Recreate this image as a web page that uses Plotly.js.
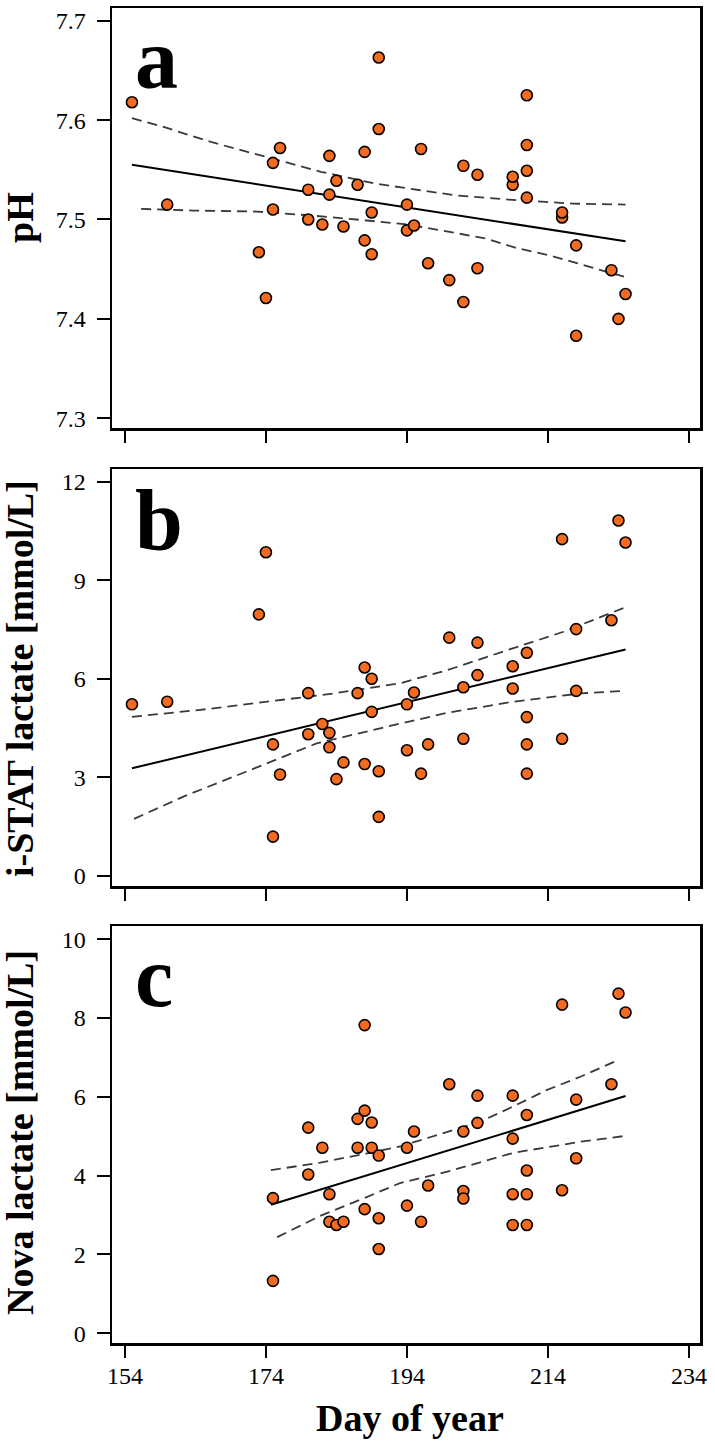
<!DOCTYPE html>
<html>
<head>
<meta charset="utf-8">
<script src="https://cdn.plot.ly/plotly-3.0.1.min.js"></script>
<style>
  html, body { margin: 0; padding: 0; background: #ffffff; }
  #chart { width: 715px; height: 1447px; }
</style>
</head>
<body>
<div id="chart"></div>
<script>
// ---- Panel a: blood pH by day of year ----
const phDay = [155,160,173,174,175,175,176,180,180,182,183,183,184,185,187,188,188,189,189,190,190,194,194,195,196,197,200,202,202,204,204,209,209,211,211,211,211,216,216,218,218,223,224,225];
const phValue = [7.618,7.515,7.467,7.421,7.557,7.510,7.572,7.530,7.500,7.495,7.564,7.525,7.539,7.493,7.535,7.568,7.479,7.507,7.465,7.663,7.591,7.515,7.489,7.494,7.571,7.456,7.439,7.554,7.417,7.545,7.451,7.535,7.543,7.625,7.575,7.549,7.522,7.502,7.507,7.474,7.383,7.449,7.400,7.425];
const phFitDay = [155, 225];
const phFit = [7.555, 7.478];
const phUpperDay = [155,159.1,166.2,174,181.8,189.6,197.3,201.2,208.4,212.3,217.5,225];
const phUpper = [7.602,7.594,7.578,7.563,7.548,7.536,7.528,7.524,7.520,7.518,7.516,7.515];
const phLowerDay = [156.3,163.6,172.7,180.5,188.3,194.1,201.2,205.1,209.7,214.2,218.1,221.4,225];
const phLower = [7.5106,7.509,7.508,7.504,7.499,7.495,7.486,7.481,7.471,7.464,7.456,7.449,7.442];

// ---- Panel b: i-STAT lactate ----
const istatDay = [155,160,173,174,175,175,176,180,180,182,183,183,184,185,187,188,188,189,189,190,190,194,194,195,196,197,200,202,202,204,204,209,209,211,211,211,211,216,216,218,218,223,224,225];
const istatValue = [5.22,5.30,7.96,9.85,4.00,1.19,3.08,5.56,4.31,4.62,4.35,3.91,2.94,3.45,5.56,6.34,3.40,6.00,4.99,3.18,1.79,5.22,3.82,5.58,3.11,4.00,7.25,5.74,4.17,7.10,6.11,6.38,5.70,6.79,4.83,4.00,3.11,10.25,4.17,7.51,5.63,7.78,10.82,10.15];
const istatFitDay = [155, 225];
const istatFit = [3.27, 6.89];
const istatUpperDay = [155,164.7,174.2,183.6,193,199.7,209.1,216.2,224.9];
const istatUpper = [4.84,5.05,5.30,5.55,5.86,6.26,6.93,7.43,8.17];
const istatLowerDay = [155.3,162.3,171.8,181.2,190.2,199.7,209.1,218.6,224.9];
const istatLower = [1.73,2.41,3.22,4.03,4.49,4.96,5.30,5.55,5.63];

// ---- Panel c: Nova lactate ----
const novaDay = [175,175,180,180,182,183,183,184,185,187,187,188,188,188,189,189,190,190,190,194,194,195,196,197,200,202,202,202,204,204,209,209,209,209,211,211,211,211,216,216,218,218,223,224,225];
const novaValue = [3.43,1.33,5.22,4.03,4.71,3.53,2.83,2.75,2.83,5.44,4.71,5.65,7.82,3.15,5.35,4.71,4.51,2.92,2.14,4.71,3.24,5.12,2.83,3.75,6.32,5.12,3.61,3.42,6.03,5.34,6.03,4.94,3.53,2.75,5.54,4.13,3.53,2.75,8.34,3.63,5.93,4.44,6.32,8.62,8.14];
const novaFitDay = [174.7, 225];
const novaFit = [3.26, 6.02];
const novaUpperDay = [174.7,181.7,188.2,193,198.6,204.4,209,213.8,218.6,223.8];
const novaUpper = [4.14,4.33,4.56,4.74,5.05,5.37,5.75,6.17,6.51,6.92];
const novaLowerDay = [175.6,181.7,188.2,193,199.7,209.1,218.6,225];
const novaLower = [2.44,2.98,3.45,3.81,4.10,4.58,4.86,5.01];

// ---- Axis ticks and labels ----
const dayTicks = [154, 174, 194, 214, 234];
const phTicks = [7.3, 7.4, 7.5, 7.6, 7.7];
const istatTicks = [0, 3, 6, 9, 12];
const novaTicks = [0, 2, 4, 6, 8, 10];
const panelLetters = ['a', 'b', 'c'];
const yTitles = ['pH', 'i-STAT lactate [mmol/L]', 'Nova lactate [mmol/L]'];
const xTitle = 'Day of year';

const SERIF = 'Liberation Serif, Times New Roman, serif';
const ORANGE = '#F26B21';

function panelTraces(xa, ya, day, val, fitDay, fit, upDay, up, loDay, lo) {
  const dashed = {type: 'scatter', mode: 'lines', xaxis: xa, yaxis: ya,
    line: {color: '#3a3a3a', width: 1.8, dash: '10px,6px'}, hoverinfo: 'skip'};
  return [
    Object.assign({}, dashed, {x: upDay, y: up}),
    Object.assign({}, dashed, {x: loDay, y: lo}),
    {type: 'scatter', mode: 'lines', xaxis: xa, yaxis: ya, x: fitDay, y: fit,
     line: {color: '#000000', width: 2}, hoverinfo: 'skip'},
    {type: 'scatter', mode: 'markers', xaxis: xa, yaxis: ya, x: day, y: val,
     marker: {size: 11, color: ORANGE, line: {color: '#000000', width: 1.6}}}
  ];
}

const data = [].concat(
  panelTraces('x', 'y', phDay, phValue, phFitDay, phFit, phUpperDay, phUpper, phLowerDay, phLower),
  panelTraces('x2', 'y2', istatDay, istatValue, istatFitDay, istatFit, istatUpperDay, istatUpper, istatLowerDay, istatLower),
  panelTraces('x3', 'y3', novaDay, novaValue, novaFitDay, novaFit, novaUpperDay, novaUpper, novaLowerDay, novaLower)
);

const W = 715, H = 1447;
const M = {l: 112, r: 15, t: 8, b: 104};
const plotW = W - M.l - M.r, plotH = H - M.t - M.b;
const px = v => (v - M.l) / plotW;          // page x -> paper x
const py = v => (H - M.b - v) / plotH;      // page y -> paper y

function xAxis(anchor, labels) {
  return {
    anchor: anchor, domain: [0, 1], range: [152.17, 235.56],
    tickmode: 'array', tickvals: dayTicks, showticklabels: labels,
    ticks: 'outside', ticklen: 12, tickwidth: 2, tickcolor: '#000',
    ticklabelstandoff: -2,
    tickfont: {family: SERIF, size: 24, color: '#000'},
    showline: true, mirror: true, linewidth: 2.5, linecolor: '#000',
    showgrid: false, zeroline: false, fixedrange: true
  };
}
function yAxis(anchor, domain, range, ticks) {
  return {
    anchor: anchor, domain: domain, range: range,
    tickmode: 'array', tickvals: ticks,
    ticks: 'outside', ticklen: 13, tickwidth: 2, tickcolor: '#000',
    ticklabelstandoff: 6,
    tickfont: {family: SERIF, size: 24, color: '#000'},
    showline: true, mirror: true, linewidth: 2.5, linecolor: '#000',
    showgrid: false, zeroline: false, fixedrange: true
  };
}

const letterFont = {family: SERIF, size: 86, color: '#000', weight: 'bold'};
const titleFont = {family: SERIF, size: 38, color: '#000', weight: 'bold'};
const letterY = [59, 520, 977];
const titleY = [218, 679, 1133];

const annotations = [];
panelLetters.forEach((t, i) => annotations.push({
  text: t, xref: 'paper', yref: 'paper', x: px(133), y: py(letterY[i]),
  xanchor: 'left', yanchor: 'middle', showarrow: false, font: letterFont
}));
yTitles.forEach((t, i) => annotations.push({
  text: t, xref: 'paper', yref: 'paper', x: px(20), y: py(titleY[i]),
  xanchor: 'center', yanchor: 'middle', textangle: -90, showarrow: false, font: titleFont
}));
annotations.push({
  text: xTitle, xref: 'paper', yref: 'paper', x: px(410), y: py(1418),
  xanchor: 'center', yanchor: 'middle', showarrow: false, font: titleFont
});

const layout = {
  width: W, height: H, margin: M, showlegend: false,
  paper_bgcolor: '#ffffff', plot_bgcolor: '#ffffff',
  xaxis: xAxis('y', false),
  xaxis2: xAxis('y2', false),
  xaxis3: xAxis('y3', true),
  yaxis: yAxis('x', [py(428), py(8)], [7.2902, 7.7128], phTicks),
  yaxis2: yAxis('x2', [py(886), py(469)], [-0.314, 12.387], istatTicks),
  yaxis3: yAxis('x3', [py(1343), py(926)], [-0.246, 10.335], novaTicks),
  annotations: annotations
};

Plotly.newPlot('chart', data, layout, {displayModeBar: false, staticPlot: true});
</script>
</body>
</html>
